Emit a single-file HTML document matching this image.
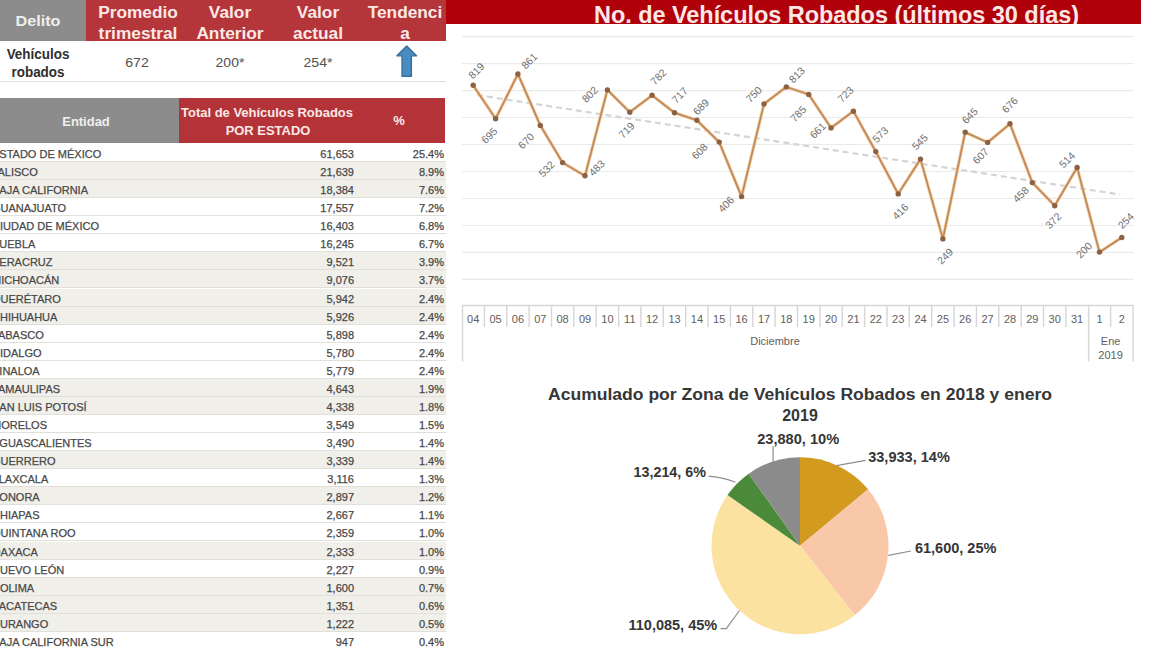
<!DOCTYPE html>
<html><head><meta charset="utf-8"><style>
html,body{margin:0;padding:0;}
body{width:1152px;height:648px;overflow:hidden;position:relative;background:#fff;font-family:"Liberation Sans",sans-serif;}
.abs{position:absolute;}
.ht{position:absolute;color:#fbe9e6;font-weight:bold;font-size:16px;white-space:nowrap;transform:translateX(-50%) scaleX(1.08);line-height:1;}
.r{position:absolute;left:0;width:446px;height:17px;border-bottom:1px solid #e0dfd8;font-size:11px;color:#484848;}
.r.s{background:#f0efea;}
.r span{position:absolute;top:5px;-webkit-text-stroke:0.25px #484848;line-height:11px;white-space:nowrap;}
.r .n{left:-8px;}
.r .v{right:92px;}
.r .p{right:2px;}
</style></head><body>
<div class="abs" style="left:0;top:0;width:86px;height:41px;background:#8c8c8c"></div>
<div class="abs" style="left:86px;top:0;width:360px;height:41px;background:#b5363a"></div>
<div class="ht" style="left:38px;top:13px;font-size:15px;color:#eeeeee">Delito</div>
<div class="ht" style="left:137.6px;top:5px">Promedio</div>
<div class="ht" style="left:137.6px;top:26px">trimestral</div>
<div class="ht" style="left:229.7px;top:5px">Valor</div>
<div class="ht" style="left:229.7px;top:26px">Anterior</div>
<div class="ht" style="left:317.5px;top:5px">Valor</div>
<div class="ht" style="left:317.5px;top:26px">actual</div>
<div class="ht" style="left:405px;top:5px">Tendenci</div>
<div class="ht" style="left:405px;top:26px">a</div>
<div class="ht" style="left:38.3px;top:47px;color:#2e2e2e;font-size:14px;transform:translateX(-50%) scaleX(0.96)">Vehículos</div>
<div class="ht" style="left:38.3px;top:65px;color:#2e2e2e;font-size:14px;transform:translateX(-50%) scaleX(0.96)">robados</div>
<div class="ht" style="left:137.3px;top:55.5px;color:#505050;font-size:13px;font-weight:normal">672</div>
<div class="ht" style="left:229.7px;top:55.5px;color:#505050;font-size:13px;font-weight:normal">200*</div>
<div class="ht" style="left:317.5px;top:55.5px;color:#505050;font-size:13px;font-weight:normal">254*</div>
<svg class="abs" style="left:0;top:0" width="460" height="100"><path d="M406.7,46 L416.5,55.8 L411.4,55.8 L411.4,76.3 L402,76.3 L402,55.8 L396.9,55.8 Z" fill="#4a8cbf" stroke="#336d9c" stroke-width="1.3" stroke-linejoin="round"/></svg>
<div class="abs" style="left:0;top:81px;width:446px;height:1px;background:#dedede"></div>
<div class="abs" style="left:0;top:97.5px;width:179px;height:45.5px;background:#8c8c8c"></div>
<div class="abs" style="left:179px;top:97.5px;width:266px;height:45.5px;background:#b33339"></div>
<div class="ht" style="left:86px;top:116px;font-size:12px;color:#f0f0f0">Entidad</div>
<div class="ht" style="left:267px;top:107px;font-size:12px">Total de Vehículos Robados</div>
<div class="ht" style="left:267.5px;top:125px;font-size:12px">POR ESTADO</div>
<div class="ht" style="left:398.5px;top:115px;font-size:12px">%</div>
<div class="r" style="top:144px"><span class="n">ESTADO DE MÉXICO</span><span class="v">61,653</span><span class="p">25.4%</span></div>
<div class="r s" style="top:162px"><span class="n">JALISCO</span><span class="v">21,639</span><span class="p">8.9%</span></div>
<div class="r s" style="top:180px"><span class="n">BAJA CALIFORNIA</span><span class="v">18,384</span><span class="p">7.6%</span></div>
<div class="r" style="top:198px"><span class="n">GUANAJUATO</span><span class="v">17,557</span><span class="p">7.2%</span></div>
<div class="r" style="top:216px"><span class="n">CIUDAD DE MÉXICO</span><span class="v">16,403</span><span class="p">6.8%</span></div>
<div class="r" style="top:234px"><span class="n">PUEBLA</span><span class="v">16,245</span><span class="p">6.7%</span></div>
<div class="r s" style="top:252px"><span class="n">VERACRUZ</span><span class="v">9,521</span><span class="p">3.9%</span></div>
<div class="r s" style="top:270px"><span class="n">MICHOACÁN</span><span class="v">9,076</span><span class="p">3.7%</span></div>
<div class="r s" style="top:289px"><span class="n">QUERÉTARO</span><span class="v">5,942</span><span class="p">2.4%</span></div>
<div class="r s" style="top:307px"><span class="n">CHIHUAHUA</span><span class="v">5,926</span><span class="p">2.4%</span></div>
<div class="r" style="top:325px"><span class="n">TABASCO</span><span class="v">5,898</span><span class="p">2.4%</span></div>
<div class="r" style="top:343px"><span class="n">HIDALGO</span><span class="v">5,780</span><span class="p">2.4%</span></div>
<div class="r" style="top:361px"><span class="n">SINALOA</span><span class="v">5,779</span><span class="p">2.4%</span></div>
<div class="r s" style="top:379px"><span class="n">TAMAULIPAS</span><span class="v">4,643</span><span class="p">1.9%</span></div>
<div class="r s" style="top:397px"><span class="n">SAN LUIS POTOSÍ</span><span class="v">4,338</span><span class="p">1.8%</span></div>
<div class="r" style="top:415px"><span class="n">MORELOS</span><span class="v">3,549</span><span class="p">1.5%</span></div>
<div class="r" style="top:433px"><span class="n">AGUASCALIENTES</span><span class="v">3,490</span><span class="p">1.4%</span></div>
<div class="r s" style="top:451px"><span class="n">GUERRERO</span><span class="v">3,339</span><span class="p">1.4%</span></div>
<div class="r" style="top:469px"><span class="n">TLAXCALA</span><span class="v">3,116</span><span class="p">1.3%</span></div>
<div class="r s" style="top:487px"><span class="n">SONORA</span><span class="v">2,897</span><span class="p">1.2%</span></div>
<div class="r" style="top:505px"><span class="n">CHIAPAS</span><span class="v">2,667</span><span class="p">1.1%</span></div>
<div class="r" style="top:523px"><span class="n">QUINTANA ROO</span><span class="v">2,359</span><span class="p">1.0%</span></div>
<div class="r s" style="top:542px"><span class="n">OAXACA</span><span class="v">2,333</span><span class="p">1.0%</span></div>
<div class="r" style="top:560px"><span class="n">NUEVO LEÓN</span><span class="v">2,227</span><span class="p">0.9%</span></div>
<div class="r s" style="top:578px"><span class="n">COLIMA</span><span class="v">1,600</span><span class="p">0.7%</span></div>
<div class="r s" style="top:596px"><span class="n">ZACATECAS</span><span class="v">1,351</span><span class="p">0.6%</span></div>
<div class="r s" style="top:614px"><span class="n">DURANGO</span><span class="v">1,222</span><span class="p">0.5%</span></div>
<div class="r" style="top:632px"><span class="n">BAJA CALIFORNIA SUR</span><span class="v">947</span><span class="p">0.4%</span></div>
<div class="abs" style="left:446px;top:0;width:695px;height:23.5px;background:#b0000a;overflow:hidden">
<div style="position:absolute;left:148px;top:3px;font-size:23.5px;font-weight:bold;color:#fde8e6;white-space:nowrap;line-height:24px;letter-spacing:-0.05px">No. de Vehículos Robados (últimos 30 días)</div>
</div>
<svg width="1152" height="648" style="position:absolute;left:0;top:0">
<g stroke="#eaeaea" stroke-width="1.2"><line x1="462" y1="36.6" x2="1133.5" y2="36.6"/><line x1="462" y1="63.6" x2="1133.5" y2="63.6"/><line x1="462" y1="90.6" x2="1133.5" y2="90.6"/><line x1="462" y1="117.5" x2="1133.5" y2="117.5"/><line x1="462" y1="144.5" x2="1133.5" y2="144.5"/><line x1="462" y1="171.5" x2="1133.5" y2="171.5"/><line x1="462" y1="198.5" x2="1133.5" y2="198.5"/><line x1="462" y1="225.5" x2="1133.5" y2="225.5"/><line x1="462" y1="252.4" x2="1133.5" y2="252.4"/><line x1="462" y1="279.4" x2="1133.5" y2="279.4"/></g>
<line x1="477" y1="95" x2="1120" y2="194.5" stroke="#d4d4d4" stroke-width="2.2" stroke-dasharray="6,4"/>
<g stroke="#d6d6d6" stroke-width="1.4"><line x1="462" y1="305.5" x2="1133.5" y2="305.5"/><line x1="462.5" y1="305" x2="462.5" y2="361.5"/><line x1="1133" y1="305" x2="1133" y2="361.5"/><line x1="1088.6" y1="305" x2="1088.6" y2="361.5"/><line x1="484.4" y1="305" x2="484.4" y2="327"/><line x1="506.7" y1="305" x2="506.7" y2="327"/><line x1="529.1" y1="305" x2="529.1" y2="327"/><line x1="551.5" y1="305" x2="551.5" y2="327"/><line x1="573.8" y1="305" x2="573.8" y2="327"/><line x1="596.2" y1="305" x2="596.2" y2="327"/><line x1="618.6" y1="305" x2="618.6" y2="327"/><line x1="640.9" y1="305" x2="640.9" y2="327"/><line x1="663.3" y1="305" x2="663.3" y2="327"/><line x1="685.7" y1="305" x2="685.7" y2="327"/><line x1="708.0" y1="305" x2="708.0" y2="327"/><line x1="730.4" y1="305" x2="730.4" y2="327"/><line x1="752.8" y1="305" x2="752.8" y2="327"/><line x1="775.1" y1="305" x2="775.1" y2="327"/><line x1="797.5" y1="305" x2="797.5" y2="327"/><line x1="819.9" y1="305" x2="819.9" y2="327"/><line x1="842.2" y1="305" x2="842.2" y2="327"/><line x1="864.6" y1="305" x2="864.6" y2="327"/><line x1="887.0" y1="305" x2="887.0" y2="327"/><line x1="909.3" y1="305" x2="909.3" y2="327"/><line x1="931.7" y1="305" x2="931.7" y2="327"/><line x1="954.1" y1="305" x2="954.1" y2="327"/><line x1="976.4" y1="305" x2="976.4" y2="327"/><line x1="998.8" y1="305" x2="998.8" y2="327"/><line x1="1021.2" y1="305" x2="1021.2" y2="327"/><line x1="1043.5" y1="305" x2="1043.5" y2="327"/><line x1="1065.9" y1="305" x2="1065.9" y2="327"/><line x1="1110.6" y1="305" x2="1110.6" y2="327"/></g>
<g font-family="Liberation Sans, sans-serif" font-size="11" fill="#606060" text-anchor="middle"><text x="473.2" y="323.3">04</text><text x="495.6" y="323.3">05</text><text x="517.9" y="323.3">06</text><text x="540.3" y="323.3">07</text><text x="562.6" y="323.3">08</text><text x="585.0" y="323.3">09</text><text x="607.4" y="323.3">10</text><text x="629.8" y="323.3">11</text><text x="652.1" y="323.3">12</text><text x="674.5" y="323.3">13</text><text x="696.9" y="323.3">14</text><text x="719.2" y="323.3">15</text><text x="741.6" y="323.3">16</text><text x="764.0" y="323.3">17</text><text x="786.3" y="323.3">18</text><text x="808.7" y="323.3">19</text><text x="831.0" y="323.3">20</text><text x="853.4" y="323.3">21</text><text x="875.8" y="323.3">22</text><text x="898.2" y="323.3">23</text><text x="920.5" y="323.3">24</text><text x="942.9" y="323.3">25</text><text x="965.2" y="323.3">26</text><text x="987.6" y="323.3">27</text><text x="1010.0" y="323.3">28</text><text x="1032.3" y="323.3">29</text><text x="1054.7" y="323.3">30</text><text x="1077.1" y="323.3">31</text><text x="1099.5" y="323.3">1</text><text x="1121.8" y="323.3">2</text><text x="775" y="345">Diciembre</text><text x="1110.6" y="345.3">Ene</text><text x="1110.6" y="358.6">2019</text></g>
<polyline points="473.2,85.3 495.6,118.7 517.9,74.0 540.3,125.4 562.6,162.6 585.0,175.8 607.4,89.9 629.8,112.2 652.1,95.3 674.5,112.8 696.9,120.3 719.2,142.1 741.6,196.6 764.0,103.9 786.3,86.9 808.7,94.4 831.0,127.9 853.4,111.2 875.8,151.6 898.2,193.9 920.5,159.1 942.9,238.9 965.2,132.2 987.6,142.4 1010.0,123.8 1032.3,182.6 1054.7,205.7 1077.1,167.5 1099.5,252.1 1121.8,237.5" fill="none" stroke="#f4c18c" stroke-width="3.2" stroke-linejoin="round"/>
<polyline points="473.2,85.3 495.6,118.7 517.9,74.0 540.3,125.4 562.6,162.6 585.0,175.8 607.4,89.9 629.8,112.2 652.1,95.3 674.5,112.8 696.9,120.3 719.2,142.1 741.6,196.6 764.0,103.9 786.3,86.9 808.7,94.4 831.0,127.9 853.4,111.2 875.8,151.6 898.2,193.9 920.5,159.1 942.9,238.9 965.2,132.2 987.6,142.4 1010.0,123.8 1032.3,182.6 1054.7,205.7 1077.1,167.5 1099.5,252.1 1121.8,237.5" fill="none" stroke="#b68860" stroke-width="1.5" stroke-linejoin="round"/>
<g fill="#8c6244"><circle cx="473.2" cy="85.3" r="2.7"/><circle cx="495.6" cy="118.7" r="2.7"/><circle cx="517.9" cy="74.0" r="2.7"/><circle cx="540.3" cy="125.4" r="2.7"/><circle cx="562.6" cy="162.6" r="2.7"/><circle cx="585.0" cy="175.8" r="2.7"/><circle cx="607.4" cy="89.9" r="2.7"/><circle cx="629.8" cy="112.2" r="2.7"/><circle cx="652.1" cy="95.3" r="2.7"/><circle cx="674.5" cy="112.8" r="2.7"/><circle cx="696.9" cy="120.3" r="2.7"/><circle cx="719.2" cy="142.1" r="2.7"/><circle cx="741.6" cy="196.6" r="2.7"/><circle cx="764.0" cy="103.9" r="2.7"/><circle cx="786.3" cy="86.9" r="2.7"/><circle cx="808.7" cy="94.4" r="2.7"/><circle cx="831.0" cy="127.9" r="2.7"/><circle cx="853.4" cy="111.2" r="2.7"/><circle cx="875.8" cy="151.6" r="2.7"/><circle cx="898.2" cy="193.9" r="2.7"/><circle cx="920.5" cy="159.1" r="2.7"/><circle cx="942.9" cy="238.9" r="2.7"/><circle cx="965.2" cy="132.2" r="2.7"/><circle cx="987.6" cy="142.4" r="2.7"/><circle cx="1010.0" cy="123.8" r="2.7"/><circle cx="1032.3" cy="182.6" r="2.7"/><circle cx="1054.7" cy="205.7" r="2.7"/><circle cx="1077.1" cy="167.5" r="2.7"/><circle cx="1099.5" cy="252.1" r="2.7"/><circle cx="1121.8" cy="237.5" r="2.7"/></g>
<g font-family="Liberation Sans, sans-serif" font-size="10.5" fill="#707070" text-anchor="middle"><text transform="translate(476.2,70.5) rotate(-45)" y="4">819</text><text transform="translate(489.2,135.3) rotate(-45)" y="4">695</text><text transform="translate(529.1,60.8) rotate(-45)" y="4">861</text><text transform="translate(525.9,140.7) rotate(-45)" y="4">670</text><text transform="translate(546.4,168.8) rotate(-45)" y="4">532</text><text transform="translate(596.5,167.7) rotate(-45)" y="4">483</text><text transform="translate(589.6,94.3) rotate(-45)" y="4">802</text><text transform="translate(626.3,129.9) rotate(-45)" y="4">719</text><text transform="translate(658.2,76.7) rotate(-45)" y="4">782</text><text transform="translate(679.5,94.9) rotate(-45)" y="4">717</text><text transform="translate(700.8,106.7) rotate(-45)" y="4">689</text><text transform="translate(699.4,151) rotate(-45)" y="4">608</text><text transform="translate(725.8,204) rotate(-45)" y="4">406</text><text transform="translate(753.6,94.2) rotate(-45)" y="4">750</text><text transform="translate(796.7,74.7) rotate(-45)" y="4">813</text><text transform="translate(798,113.6) rotate(-45)" y="4">785</text><text transform="translate(817.5,130.3) rotate(-45)" y="4">661</text><text transform="translate(845.3,94.2) rotate(-45)" y="4">723</text><text transform="translate(880,134.4) rotate(-45)" y="4">573</text><text transform="translate(900,211.3) rotate(-45)" y="4">416</text><text transform="translate(919.5,141.8) rotate(-45)" y="4">545</text><text transform="translate(944.9,256) rotate(-45)" y="4">249</text><text transform="translate(969.6,115.5) rotate(-45)" y="4">645</text><text transform="translate(980.4,155.7) rotate(-45)" y="4">607</text><text transform="translate(1009.7,104.7) rotate(-45)" y="4">676</text><text transform="translate(1020.5,194.3) rotate(-45)" y="4">458</text><text transform="translate(1053,220.5) rotate(-45)" y="4">372</text><text transform="translate(1066.8,159.7) rotate(-45)" y="4">514</text><text transform="translate(1083.8,249.9) rotate(-45)" y="4">200</text><text transform="translate(1125.5,220.5) rotate(-45)" y="4">254</text></g>
</svg>
<svg width="1152" height="648" style="position:absolute;left:0;top:0">
<g stroke="none"><path d="M800,545.8 L800.00,457.30 A88.5,88.5 0 0 1 868.12,489.31 Z" fill="#d39a20"/>
<path d="M800,545.8 L868.12,489.31 A88.5,88.5 0 0 1 854.85,615.25 Z" fill="#f8c8a9"/>
<path d="M800,545.8 L854.85,615.25 A88.5,88.5 0 0 1 727.49,495.06 Z" fill="#fce2a0"/>
<path d="M800,545.8 L727.49,495.06 A88.5,88.5 0 0 1 748.71,473.68 Z" fill="#4b8a3b"/>
<path d="M800,545.8 L748.71,473.68 A88.5,88.5 0 0 1 800.00,457.30 Z" fill="#8b8b8b"/></g>
<g stroke="#8e8e8e" stroke-width="1.2" fill="none"><path d="M773.1,446 L773.1,462"/><path d="M708.5,476.2 Q722,477 735.5,482.3"/><path d="M836.5,465.7 L865.6,460.3"/><path d="M888.3,555.3 L911,551"/><path d="M720.5,628.7 L726.3,628.7 L739.5,610.5"/></g>
<g font-family="Liberation Sans, sans-serif" font-weight="bold" font-size="14" fill="#363636"><text x="757.2" y="443.6" textLength="82" lengthAdjust="spacingAndGlyphs">23,880, 10%</text><text x="633.5" y="477" textLength="72.5" lengthAdjust="spacingAndGlyphs">13,214, 6%</text><text x="868.2" y="462.4" textLength="81.7" lengthAdjust="spacingAndGlyphs">33,933, 14%</text><text x="914.9" y="553.2" textLength="81.5" lengthAdjust="spacingAndGlyphs">61,600, 25%</text><text x="628.5" y="629.5" textLength="88.7" lengthAdjust="spacingAndGlyphs">110,085, 45%</text></g>
<g font-family="Liberation Sans, sans-serif" font-weight="bold" font-size="16" fill="#363636"><text x="548" y="399.5" textLength="504" lengthAdjust="spacingAndGlyphs">Acumulado por Zona de Vehículos Robados en 2018 y enero</text><text x="800" y="420.6" text-anchor="middle">2019</text></g>
</svg>
</body></html>
